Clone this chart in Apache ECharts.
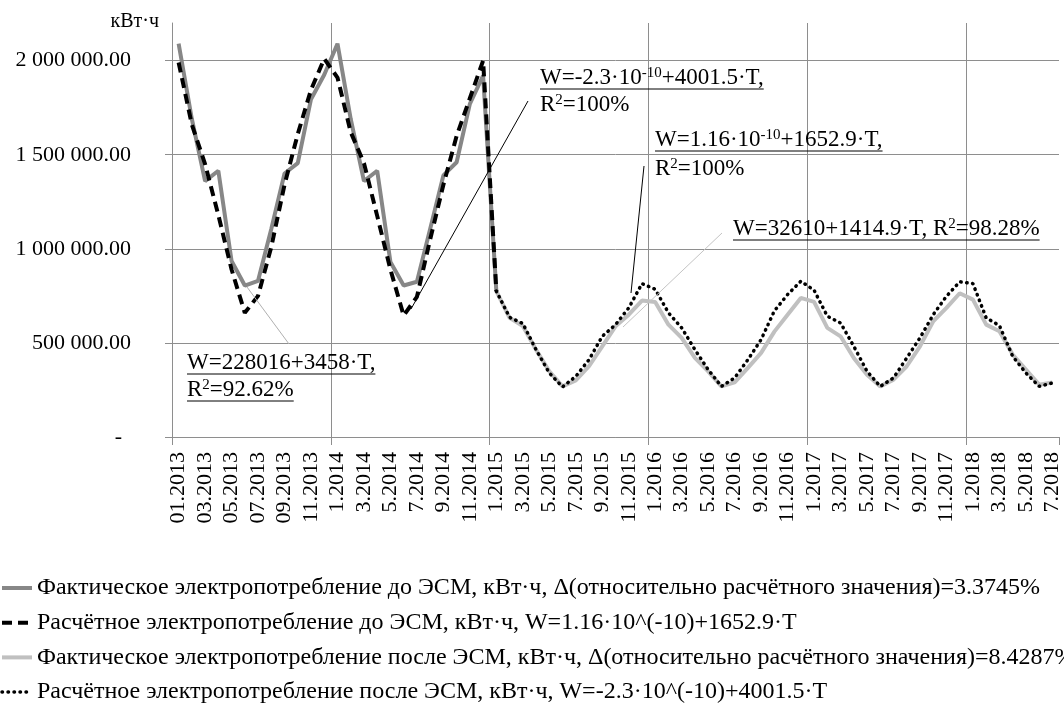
<!DOCTYPE html>
<html>
<head>
<meta charset="utf-8">
<script src="https://cdn.jsdelivr.net/npm/echarts@6/dist/echarts.min.js"></script>
<style>
  html, body { margin: 0; padding: 0; background: #fff; }
  #chart { width: 1064px; height: 709px; }
</style>
</head>
<body>
<div id="chart"></div>
<script>
// Monthly categories, 01.2013 – 07.2018
const months = [
  '01.2013','02.2013','03.2013','04.2013','05.2013','06.2013','07.2013','08.2013','09.2013','10.2013','11.2013','12.2013',
  '1.2014','2.2014','3.2014','4.2014','5.2014','6.2014','7.2014','8.2014','9.2014','10.2014','11.2014','12.2014',
  '1.2015','2.2015','3.2015','4.2015','5.2015','6.2015','7.2015','8.2015','9.2015','10.2015','11.2015','12.2015',
  '1.2016','2.2016','3.2016','4.2016','5.2016','6.2016','7.2016','8.2016','9.2016','10.2016','11.2016','12.2016',
  '1.2017','2.2017','3.2017','4.2017','5.2017','6.2017','7.2017','8.2017','9.2017','10.2017','11.2017','12.2017',
  '1.2018','2.2018','3.2018','4.2018','5.2018','6.2018','7.2018'
];

// Value axis ticks, kWh
const yTicks = [0, 500000, 1000000, 1500000, 2000000];

// Before energy-saving measures: 01.2013 – 01.2015
const factBefore = [
  2090000, 1690000, 1360000, 1415000, 935000, 805000, 830000, 1105000, 1400000, 1455000, 1795000, 1925000,
  2090000, 1690000, 1360000, 1415000, 930000, 805000, 825000, 1105000, 1390000, 1460000, 1770000, 1920000,
  775000
];
const calcBefore = [
  1990000, 1660000, 1450000, 1180000, 890000, 660000, 750000, 1010000, 1340000, 1610000, 1845000, 2010000,
  1910000, 1620000, 1455000, 1175000, 890000, 645000, 745000, 1050000, 1340000, 1600000, 1800000, 2000000,
  775000
];

// After energy-saving measures: 01.2015 – 07.2018
const factAfter = [
  775000, 633000, 590000, 464000, 349000, 269000, 301000, 376000, 482000, 588000, 650000, 725000,
  718000, 597000, 527000, 420000, 349000, 269000, 290000, 367000, 447000, 560000, 650000, 739000,
  718000, 580000, 535000, 420000, 331000, 269000, 305000, 376000, 482000, 615000, 686000, 764000,
  730000, 597000, 562000, 438000, 358000, 278000, 290000
];
const calcAfter = [
  775000, 636000, 603000, 464000, 340000, 266000, 322000, 411000, 535000, 597000, 686000, 815000,
  785000, 660000, 580000, 464000, 358000, 269000, 314000, 411000, 518000, 670000, 757000, 828000,
  780000, 642000, 606000, 482000, 349000, 269000, 314000, 420000, 527000, 650000, 748000, 825000,
  815000, 633000, 592000, 429000, 340000, 269000, 287000
];
const beforeStart = 0;
const afterStart = 24;

const seriesNames = [
  'Фактическое электропотребление до ЭСМ, кВт·ч, Δ(относительно расчётного значения)=3.3745%',
  'Расчётное электропотребление до ЭСМ, кВт·ч, W=1.16·10^(-10)+1652.9·T',
  'Фактическое электропотребление после ЭСМ, кВт·ч, Δ(относительно расчётного значения)=8.4287%',
  'Расчётное электропотребление после ЭСМ, кВт·ч, W=-2.3·10^(-10)+4001.5·T'
];

// Line styles shared by each series and its legend entry
const styles = [
  { color: '#878787', width: 4 },
  { color: '#000000', width: 4, type: [10, 6] },
  { color: '#c0c0c0', width: 4 },
  { color: '#000000', width: 3.5, type: [0.5, 5.5], cap: 'round' }
];

// Regression notes: text pieces ('s' = superscript), anchor and underline flag
const notes = [
  { x: 540, y: 78,  parts: [['W=-2.3·10'], ['-10', 's'], ['+4001.5·T,']], under: true },
  { x: 540, y: 105, parts: [['R'], ['2', 's'], ['=100%']], under: false },
  { x: 655, y: 140, parts: [['W=1.16·10'], ['-10', 's'], ['+1652.9·T,']], under: true },
  { x: 655, y: 169, parts: [['R'], ['2', 's'], ['=100%']], under: false },
  { x: 733, y: 229, parts: [['W=32610+1414.9·T, R'], ['2', 's'], ['=98.28%']], under: true },
  { x: 187, y: 363, parts: [['W=228016+3458·T,']], under: true },
  { x: 187, y: 390, parts: [['R'], ['2', 's'], ['=92.62%']], under: true }
];
const leaders = [
  { from: [411, 309], to: [528, 101], color: '#000000' },
  { from: [631, 293], to: [644, 166], color: '#000000' },
  { from: [623, 327], to: [722, 233], color: '#c4c4c4' },
  { from: [247, 287], to: [289, 344], color: '#b0b0b0' }
];

const FONT = '"Liberation Serif", "Times New Roman", serif';
const NOTE_SIZE = 23;
const SUP_SIZE = 15;
const GRID = '#8e8e8e';

function place(values, start) {
  const out = months.map(() => null);
  values.forEach((v, i) => { out[start + i] = v; });
  return out;
}

function formatKwh(v) {
  if (v === 0) return '{z|-}';
  return v.toFixed(2).replace(/\B(?=(\d{3})+(?!\d))/g, ' ');
}

const measureCtx = document.createElement('canvas').getContext('2d');
function textWidth(str, size) {
  measureCtx.font = size + 'px "Liberation Serif"';
  return measureCtx.measureText(str).width;
}

const graphics = [];
leaders.forEach(l => {
  graphics.push({
    type: 'line', z: 100, silent: true,
    shape: { x1: l.from[0], y1: l.from[1], x2: l.to[0], y2: l.to[1] },
    style: { stroke: l.color, lineWidth: 1 }
  });
});
notes.forEach(n => {
  const rich = n.parts.map(p => '{' + (p[1] || 'm') + '|' + p[0] + '}').join('');
  graphics.push({
    type: 'text', z: 100, silent: true, x: n.x, y: n.y,
    style: {
      text: rich, align: 'left', verticalAlign: 'middle',
      fontFamily: FONT, fontSize: NOTE_SIZE, fill: '#000',
      rich: {
        m: { fontFamily: FONT, fontSize: NOTE_SIZE, lineHeight: 24, fill: '#000', verticalAlign: 'middle' },
        s: { fontFamily: FONT, fontSize: SUP_SIZE, lineHeight: 12, fill: '#000', verticalAlign: 'top' }
      }
    }
  });
  if (n.under) {
    const w = n.parts.reduce((acc, p) => acc + textWidth(p[0], p[1] ? SUP_SIZE : NOTE_SIZE), 0);
    graphics.push({
      type: 'line', z: 100, silent: true,
      shape: { x1: n.x, y1: n.y + 11, x2: n.x + w, y2: n.y + 11 },
      style: { stroke: '#000', lineWidth: 1 }
    });
  }
});

const seriesData = [
  place(factBefore, beforeStart),
  place(calcBefore, beforeStart),
  place(factAfter, afterStart),
  place(calcAfter, afterStart)
];

const chart = echarts.init(document.getElementById('chart'), null, { renderer: 'canvas' });
chart.setOption({
  animation: false,
  backgroundColor: '#ffffff',
  textStyle: { fontFamily: FONT },
  grid: { left: 172, right: 5, top: 23, bottom: 272, containLabel: false },
  legend: {
    orient: 'vertical', left: 0, top: 576, padding: 0,
    itemWidth: 30, itemHeight: 24, itemGap: 10.7,
    itemStyle: { opacity: 0 },
    textStyle: { fontFamily: FONT, fontSize: 24, color: '#000', lineHeight: 24 },
    data: seriesNames.map((name, i) => ({ name: name, lineStyle: styles[i] }))
  },
  xAxis: {
    type: 'category', data: months, boundaryGap: true,
    axisLine: { show: true, lineStyle: { color: GRID, width: 1 } },
    axisTick: { show: true, interval: 11, length: 8, lineStyle: { color: GRID } },
    axisLabel: { interval: 1, rotate: 90, margin: 15, fontFamily: FONT, fontSize: 22, color: '#000' },
    splitLine: {
      show: true, interval: 11,
      lineStyle: { color: [GRID, GRID, GRID, GRID, GRID, GRID, 'rgba(0,0,0,0)'], width: 1 }
    }
  },
  yAxis: {
    type: 'value', min: 0, max: 2200000,
    name: 'кВт·ч', nameLocation: 'end', nameGap: 1,
    nameTextStyle: { fontFamily: FONT, fontSize: 20, color: '#000', align: 'right', verticalAlign: 'middle', padding: [0, 13, 0, 0] },
    axisLine: { show: true, lineStyle: { color: GRID, width: 1 } },
    axisTick: { show: true, length: 7, customValues: yTicks, lineStyle: { color: GRID } },
    axisLabel: {
      customValues: yTicks, margin: 41, fontFamily: FONT, fontSize: 22, color: '#000',
      formatter: formatKwh,
      rich: { z: { fontFamily: FONT, fontSize: 22, color: '#000', padding: [0, 9, 0, 0] } }
    },
    splitLine: { show: true, lineStyle: { color: GRID, width: 1 } }
  },
  series: seriesNames.map((name, i) => ({
    name: name, type: 'line', data: seriesData[i],
    symbol: 'none', connectNulls: false, z: 2 + i,
    lineStyle: styles[i], itemStyle: { color: styles[i].color }
  })),
  graphic: graphics
});
</script>
</body>
</html>
